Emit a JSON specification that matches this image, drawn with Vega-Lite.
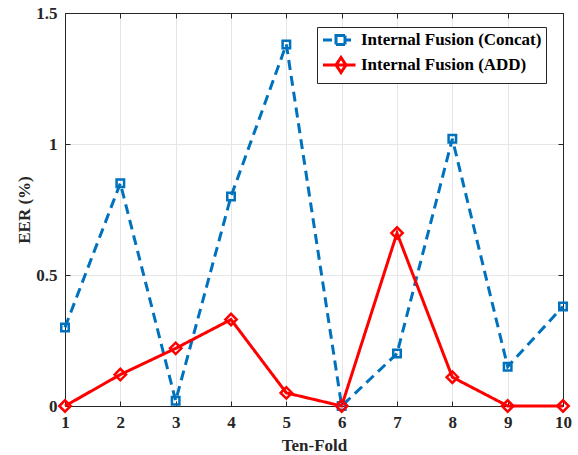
{
  "$schema": "https://vega.github.io/schema/vega-lite/v6.json",
  "width": 498,
  "height": 393,
  "autosize": {"type": "none"},
  "padding": {"left": 65, "top": 13, "right": 15, "bottom": 49},
  "background": "white",
  "config": {
    "view": {"stroke": null},
    "font": "Liberation Serif",
    "axis": {
      "labelFont": "Liberation Serif",
      "labelFontWeight": "bold",
      "labelFontSize": 17,
      "labelColor": "#262626",
      "titleFont": "Liberation Serif",
      "titleFontWeight": "bold",
      "titleFontSize": 17,
      "titleColor": "#262626",
      "domainColor": "#262626",
      "domainWidth": 1,
      "tickColor": "#262626",
      "tickSize": -5,
      "gridColor": "#e6e6e6",
      "gridWidth": 1
    }
  },
  "data": {
    "values": [
      {"fold": 1, "eer": 0.30, "series": "Internal Fusion (Concat)"},
      {"fold": 2, "eer": 0.85, "series": "Internal Fusion (Concat)"},
      {"fold": 3, "eer": 0.02, "series": "Internal Fusion (Concat)"},
      {"fold": 4, "eer": 0.80, "series": "Internal Fusion (Concat)"},
      {"fold": 5, "eer": 1.38, "series": "Internal Fusion (Concat)"},
      {"fold": 6, "eer": 0.00, "series": "Internal Fusion (Concat)"},
      {"fold": 7, "eer": 0.20, "series": "Internal Fusion (Concat)"},
      {"fold": 8, "eer": 1.02, "series": "Internal Fusion (Concat)"},
      {"fold": 9, "eer": 0.15, "series": "Internal Fusion (Concat)"},
      {"fold": 10, "eer": 0.38, "series": "Internal Fusion (Concat)"},
      {"fold": 1, "eer": 0.00, "series": "Internal Fusion (ADD)"},
      {"fold": 2, "eer": 0.12, "series": "Internal Fusion (ADD)"},
      {"fold": 3, "eer": 0.22, "series": "Internal Fusion (ADD)"},
      {"fold": 4, "eer": 0.33, "series": "Internal Fusion (ADD)"},
      {"fold": 5, "eer": 0.05, "series": "Internal Fusion (ADD)"},
      {"fold": 6, "eer": 0.00, "series": "Internal Fusion (ADD)"},
      {"fold": 7, "eer": 0.66, "series": "Internal Fusion (ADD)"},
      {"fold": 8, "eer": 0.11, "series": "Internal Fusion (ADD)"},
      {"fold": 9, "eer": 0.00, "series": "Internal Fusion (ADD)"},
      {"fold": 10, "eer": 0.00, "series": "Internal Fusion (ADD)"}
    ]
  },
  "layer": [
    {
      "mark": {"type": "line", "strokeWidth": 3, "strokeCap": "butt", "clip": false},
      "encoding": {
        "x": {
          "field": "fold", "type": "quantitative",
          "scale": {"domain": [1, 10], "nice": false, "zero": false},
          "axis": {"orient": "bottom", "values": [1,2,3,4,5,6,7,8,9,10], "format": "d", "grid": true, "labelPadding": 13, "title": "Ten-Fold", "titlePadding": 7, "labelFlush": false}
        },
        "y": {
          "field": "eer", "type": "quantitative",
          "scale": {"domain": [0, 1.5], "nice": false},
          "axis": {"orient": "left", "values": [0, 0.5, 1, 1.5], "format": "~g", "grid": true, "labelPadding": 13, "title": "EER (%)", "titlePadding": 2, "labelFlush": false}
        },
        "color": {
          "field": "series", "type": "nominal",
          "scale": {"domain": ["Internal Fusion (Concat)", "Internal Fusion (ADD)"], "range": ["#0072BD", "#FF0000"]},
          "legend": {
            "title": null,
            "orient": "none",
            "legendX": 252,
            "legendY": 14,
            "strokeColor": "#262626",
            "fillColor": "white",
            "padding": 4,
            "labelFont": "Liberation Serif",
            "labelFontWeight": "bold",
            "labelFontSize": 12,
            "labelColor": "black",
            "labelLimit": 0,
            "symbolSize": 225,
            "symbolStrokeWidth": 3,
            "labelOffset": 22,
            "rowPadding": 0,
            "encode": {
              "labels": {
                "update": {
                  "fontSize": {"value": 17}
                }
              },
              "symbols": {
                "update": {
                  "shape": {"signal": "datum.value === 'Internal Fusion (Concat)' ? 'M-0.933,0H0.267M0.8,-0.6H2V0.6H0.8ZM2,0H2.8' : 'M-0.933,0H3.4M1.467,-1L2.133,0L1.467,1L0.8,0Z'"},
                  "fill": {"value": "white"},
                  "strokeDash": {"value": [1, 0]}
                }
              }
            }
          }
        },
        "strokeDash": {
          "condition": {"test": "datum.series === 'Internal Fusion (ADD)'", "value": [1, 0]},
          "value": [10, 6]
        }
      }
    },
    {
      "mark": {"type": "point", "filled": false, "strokeWidth": 2.5, "opacity": 1, "clip": false},
      "encoding": {
        "x": {
          "field": "fold", "type": "quantitative",
          "axis": {"orient": "top", "values": [1,2,3,4,5,6,7,8,9,10], "labels": false, "grid": false, "title": null}
        },
        "y": {
          "field": "eer", "type": "quantitative",
          "axis": {"orient": "right", "values": [0, 0.5, 1, 1.5], "labels": false, "grid": false, "title": null}
        },
        "color": {"field": "series", "type": "nominal", "legend": null},
        "shape": {
          "condition": {"test": "datum.series === 'Internal Fusion (ADD)'", "value": "diamond"},
          "value": "square"
        },
        "size": {
          "condition": {"test": "datum.series === 'Internal Fusion (ADD)'", "value": 130},
          "value": 56
        }
      }
    }
  ],
  "resolve": {"axis": {"x": "independent", "y": "independent"}}
}
